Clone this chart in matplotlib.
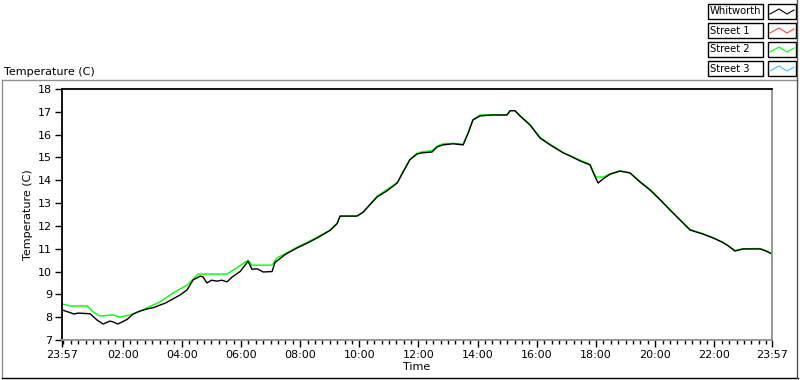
import numpy as np
import matplotlib
matplotlib.use("Agg")
import matplotlib.pyplot as plt
from matplotlib.patches import Rectangle
from matplotlib.lines import Line2D
from matplotlib.ticker import FixedLocator

# ---------------- data (hours since 23:57) ----------------
whitworth_t = [0.00, 0.27, 0.40, 0.55, 0.95, 1.18, 1.39, 1.62, 1.75, 1.89, 2.20, 2.40, 2.60,
               2.87, 3.10, 3.31, 3.50, 3.75, 4.00, 4.23, 4.43, 4.67, 4.77, 4.90, 5.05, 5.24,
               5.40, 5.58, 5.75, 6.02, 6.29, 6.42, 6.60, 6.80, 7.10, 7.20, 7.55, 7.94, 8.30,
               8.62, 9.06, 9.30, 9.40, 9.97, 10.18, 10.65, 11.00, 11.33, 11.53, 11.76, 12.00,
               12.17, 12.51, 12.68, 12.88, 13.22, 13.56, 13.73, 13.89, 14.13, 14.54, 15.04,
               15.15, 15.31, 15.48, 15.82, 16.16, 16.50, 16.94, 17.20, 17.51, 17.85, 17.95,
               18.12, 18.29, 18.53, 18.86, 19.20, 19.54, 19.88, 20.22, 20.55, 20.89, 21.23,
               21.67, 22.01, 22.30, 22.48, 22.75, 23.02, 23.60, 23.80, 24.00]
whitworth_v = [8.32, 8.20, 8.14, 8.18, 8.15, 7.88, 7.70, 7.83, 7.78, 7.70, 7.90, 8.13, 8.25,
               8.36, 8.42, 8.53, 8.62, 8.80, 8.98, 9.20, 9.63, 9.80, 9.76, 9.50, 9.62, 9.58,
               9.62, 9.55, 9.76, 10.00, 10.45, 10.10, 10.12, 9.98, 10.00, 10.40, 10.75, 11.03,
               11.25, 11.47, 11.80, 12.10, 12.43, 12.43, 12.60, 13.27, 13.55, 13.88, 14.36,
               14.90, 15.15, 15.20, 15.24, 15.46, 15.55, 15.60, 15.55, 16.07, 16.64, 16.82,
               16.86, 16.86, 17.05, 17.05, 16.82, 16.42, 15.85, 15.55, 15.20, 15.05, 14.85,
               14.67, 14.36, 13.88, 14.06, 14.27, 14.40, 14.32, 13.92, 13.57, 13.14, 12.70,
               12.26, 11.82, 11.64, 11.47, 11.30, 11.16, 10.90, 10.99, 10.99, 10.90, 10.77]

street2_t = [0.00, 0.27, 0.85, 1.05, 1.28, 1.72, 1.96, 2.30, 2.64, 3.31, 3.75, 4.23,
             4.60, 5.58, 5.68, 5.95, 6.29, 6.42, 7.10, 7.27, 7.94, 8.62, 9.06, 9.30,
             9.40, 9.97, 10.18, 10.65, 11.33, 11.53, 11.76, 12.00, 12.17, 12.51, 12.68,
             12.88, 13.22, 13.56, 13.73, 13.89, 14.13, 14.54, 15.04, 15.15, 15.31, 15.48,
             15.82, 16.16, 16.50, 16.94, 17.51, 17.85, 17.95, 18.05, 18.29, 18.53, 18.86,
             19.20, 19.54, 19.88, 20.22, 20.55, 20.89, 21.23, 21.67, 22.01, 22.48, 22.75,
             23.02, 23.60, 24.00]
street2_v = [8.58, 8.49, 8.49, 8.23, 8.05, 8.10, 8.00, 8.10, 8.27, 8.67, 9.06, 9.41,
             9.89, 9.89, 9.98, 10.20, 10.50, 10.28, 10.28, 10.60, 11.06, 11.50, 11.82, 12.12,
             12.43, 12.43, 12.62, 13.30, 13.90, 14.38, 14.92, 15.18, 15.25, 15.30, 15.50,
             15.60, 15.62, 15.58, 16.10, 16.66, 16.86, 16.88, 16.86, 17.05, 17.05, 16.84,
             16.45, 15.88, 15.58, 15.22, 14.88, 14.70, 14.40, 14.14, 14.14, 14.28, 14.42,
             14.33, 13.95, 13.60, 13.16, 12.72, 12.28, 11.84, 11.66, 11.49, 11.18, 10.92,
             11.00, 11.01, 10.78]

# Street 1 / Street 3 are hidden under the other traces in the reference
street1_t, street1_v = [], []
street3_t, street3_v = [], []

series_names = ["Whitworth", "Street 1", "Street 2", "Street 3"]
series_colors = ["#000000", "#ff4040", "#00ff00", "#40c0ff"]

major_ticks = [0.0, 2.05, 4.05, 6.05, 8.05, 10.05, 12.05, 14.05, 16.05, 18.05, 20.05, 22.05, 24.0]
major_labels = ["23:57", "02:00", "04:00", "06:00", "08:00", "10:00", "12:00",
                "14:00", "16:00", "18:00", "20:00", "22:00", "23:57"]
y_ticks = [7, 8, 9, 10, 11, 12, 13, 14, 15, 16, 17, 18]

# ---------------- figure ----------------
W, H = 800, 380
plt.rcParams["font.family"] = ["DejaVu Sans"]
fs = 8

fig = plt.figure(figsize=(W / 100, H / 100), dpi=100)
fig.patch.set_facecolor("white")


def fx(px):
    return px / W


def fy(py):
    return 1 - py / H


ax = fig.add_axes([fx(62), fy(340), fx(772) - fx(62), fy(89) - fy(340)])

ax.plot(street1_t, street1_v, color=series_colors[1], lw=1.0)
ax.plot(street3_t, street3_v, color=series_colors[3], lw=1.0)
ax.plot(street2_t, street2_v, color=series_colors[2], lw=1.0)
ax.plot(whitworth_t, whitworth_v, color=series_colors[0], lw=1.0)

ax.set_xlim(0, 24)
ax.set_ylim(7, 18)
ax.set_xticks(major_ticks)
ax.set_xticklabels(major_labels, fontsize=fs)
minor = [0.05 + 0.25 * i for i in range(96)]
ax.xaxis.set_minor_locator(FixedLocator(minor))
ax.set_yticks(y_ticks)
ax.set_yticklabels([str(v) for v in y_ticks], fontsize=fs)
ax.tick_params(axis="both", which="major", direction="out", length=5, width=1,
               color="black", pad=2)
ax.tick_params(axis="x", which="minor", direction="out", length=3, width=1, color="black")

for s in ["left", "top"]:
    ax.spines[s].set_color("black")
    ax.spines[s].set_linewidth(1.3)
for s in ["right", "bottom"]:
    ax.spines[s].set_color("#909090")
    ax.spines[s].set_linewidth(1.3)

ax.set_ylabel("Temperature (C)", fontsize=fs, labelpad=4)
ax.set_xlabel("Time", fontsize=fs, labelpad=2)

# outer frame (sunken look)
fig.add_artist(Line2D([fx(2), fx(797)], [fy(80), fy(80)], color="#909090", lw=1))
fig.add_artist(Line2D([fx(2), fx(2)], [fy(80), fy(378)], color="#909090", lw=1))
fig.add_artist(Line2D([fx(2), fx(798)], [fy(378), fy(378)], color="black", lw=1))
fig.add_artist(Line2D([fx(797), fx(797)], [fy(0), fy(378)], color="#505050", lw=1))

fig.text(fx(4), fy(72), "Temperature (C)", fontsize=fs, ha="left", va="center")

# legend boxes
row_tops = [4, 23, 42, 61]
for name, col, top in zip(series_names, series_colors, row_tops):
    fig.add_artist(Rectangle((fx(708), fy(top + 15)), fx(763) - fx(708), fy(top) - fy(top + 15),
                             facecolor="white", edgecolor="black", lw=1))
    fig.add_artist(Rectangle((fx(768), fy(top + 15)), fx(796) - fx(768), fy(top) - fy(top + 15),
                             facecolor="white", edgecolor="black", lw=1))
    fig.text(fx(710), fy(top + 7.5), name, fontsize=7.2, ha="left", va="center")
    zx = [770, 779, 787, 794]
    zy = [top + 10, top + 5, top + 10, top + 6]
    fig.add_artist(Line2D([fx(v) for v in zx], [fy(v) for v in zy], color=col, lw=0.8))

fig.savefig("out.png", dpi=100)
